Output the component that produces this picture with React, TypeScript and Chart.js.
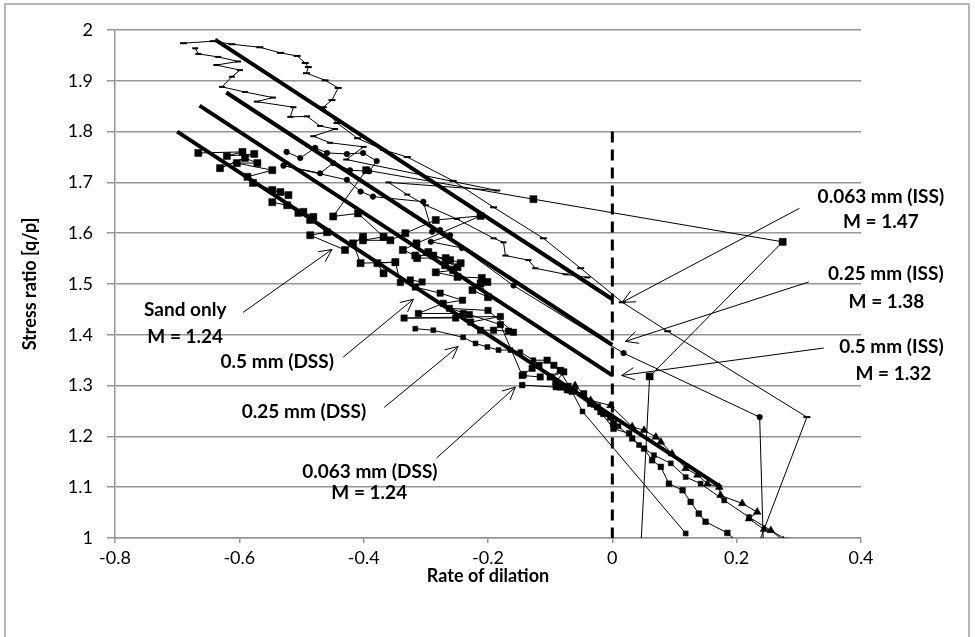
import { useEffect, useRef } from 'react';
import { Chart, registerables } from 'chart.js';
Chart.register(...registerables);

// Axis ranges / ticks
const X_MIN = -0.8, X_MAX = 0.4, X_STEP = 0.2;
const Y_MIN = 1, Y_MAX = 2, Y_STEP = 0.1;
const X_TITLE = 'Rate of dilation';
const Y_TITLE = 'Stress ratio [q/p]';

// 0.063 mm (ISS) – dash markers
const A_X = [-0.690,-0.642,-0.612,-0.567,-0.534,-0.507,-0.494,-0.489,-0.492,-0.462,-0.441,-0.451,-0.465,-0.443,-0.410,-0.368,-0.330,-0.256,-0.191,-0.111,-0.051,0.016,0.089,0.313,0.234];
const A_Y = [1.974,1.978,1.972,1.966,1.955,1.949,1.935,1.927,1.915,1.901,1.886,1.862,1.848,1.817,1.787,1.764,1.750,1.703,1.651,1.590,1.531,1.464,1.407,1.238,0.985];

// second ISS run – dash markers (zig-zag)
const B_X = [-0.671,-0.666,-0.634,-0.602,-0.637,-0.599,-0.612,-0.628,-0.591,-0.546,-0.572,-0.513,-0.518,-0.491,-0.470,-0.446,-0.481,-0.454,-0.400,-0.428,-0.185,-0.360,-0.330,-0.300,-0.250,-0.191,-0.175,-0.172,-0.135,-0.124,-0.075,-0.040];
const B_Y = [1.964,1.953,1.947,1.938,1.931,1.921,1.908,1.888,1.878,1.867,1.859,1.848,1.829,1.830,1.811,1.805,1.791,1.778,1.770,1.745,1.684,1.700,1.676,1.655,1.628,1.590,1.582,1.556,1.547,1.531,1.519,1.513];

// 0.25 mm (ISS) – circles
const C_X = [-0.524,-0.502,-0.478,-0.459,-0.427,-0.401,-0.379,-0.391,-0.422,-0.449,-0.470,-0.529,-0.427,-0.405,-0.385,-0.304,-0.290,-0.277,-0.261,-0.292,-0.242,-0.159,0.018,0.237,0.243];
const C_Y = [1.760,1.748,1.768,1.758,1.756,1.758,1.742,1.722,1.724,1.738,1.718,1.733,1.705,1.682,1.672,1.662,1.603,1.606,1.596,1.583,1.571,1.497,1.364,1.238,0.985];

// 0.5 mm (ISS) – large squares
const D_X = [-0.201,-0.212,-0.200,-0.225,-0.210,-0.249,-0.284,-0.256,-0.244,-0.268,-0.314,-0.296,-0.249,-0.269,-0.261,-0.288,-0.317,-0.337,-0.315,-0.212,-0.284,-0.333,-0.357,-0.401,-0.368,-0.409,-0.449,-0.396,-0.127,0.274,0.060,0.046];
const D_Y = [1.504,1.501,1.474,1.488,1.512,1.514,1.523,1.527,1.541,1.551,1.551,1.563,1.533,1.537,1.547,1.556,1.556,1.567,1.580,1.634,1.626,1.600,1.586,1.586,1.593,1.639,1.633,1.724,1.667,1.583,1.318,0.985];

// Sand only – large squares
const E_X = [-0.666,-0.595,-0.620,-0.576,-0.631,-0.591,-0.571,-0.604,-0.547,-0.587,-0.578,-0.547,-0.521,-0.534,-0.547,-0.523,-0.505,-0.481,-0.497,-0.486,-0.459,-0.486,-0.430,-0.401,-0.417,-0.405,-0.349,-0.378,-0.368];
const E_Y = [1.758,1.760,1.752,1.756,1.728,1.748,1.738,1.738,1.724,1.711,1.699,1.685,1.675,1.681,1.661,1.655,1.640,1.632,1.642,1.626,1.602,1.596,1.567,1.593,1.580,1.541,1.543,1.541,1.521];

// 0.5 mm (DSS) – squares
const F_X = [-0.349,-0.341,-0.325,-0.306,-0.317,-0.277,-0.241,-0.272,-0.312,-0.240,-0.252,-0.335,-0.180,-0.228,-0.212,-0.191,-0.167,-0.159,-0.200,-0.262,-0.230,-0.180,-0.145,-0.116];
const F_Y = [1.543,1.503,1.508,1.504,1.494,1.482,1.468,1.462,1.442,1.442,1.433,1.433,1.436,1.425,1.409,1.409,1.407,1.405,1.448,1.452,1.440,1.420,1.320,1.317];

// 0.25 mm (DSS) – small squares
const G_X = [-0.317,-0.288,-0.240,-0.220,-0.201,-0.183,-0.164,-0.148,-0.127,-0.104,-0.085,-0.070,-0.048,0.118];
const G_Y = [1.412,1.409,1.395,1.383,1.376,1.370,1.370,1.366,1.350,1.350,1.330,1.300,1.249,1.009];

// 0.063 mm (DSS) – squares
const H_X = [-0.145,-0.091,-0.073,-0.065,-0.019,0.002,0.027,0.032,0.051,0.064,0.078,0.091,0.113,0.126,0.139,0.150,0.185,0.206];
const H_Y = [1.301,1.297,1.291,1.288,1.248,1.215,1.206,1.196,1.176,1.153,1.140,1.107,1.094,1.071,1.048,1.032,1.010,0.986];

// DSS cluster near the origin – squares
const K_X = [-0.143,-0.129,-0.118,-0.105,-0.094,-0.083,-0.100,-0.078,-0.091,-0.083,-0.067,-0.046,-0.035,-0.024,-0.014,-0.003,0.002];
const K_Y = [1.322,1.334,1.340,1.350,1.340,1.330,1.317,1.327,1.307,1.297,1.291,1.284,1.265,1.258,1.245,1.238,1.225];

// lower band – small squares
const S_X = [-0.060,-0.030,0.010,0.043,0.067,0.094,0.118,0.142,0.180,0.220,0.282];
const S_Y = [1.290,1.262,1.220,1.183,1.163,1.147,1.120,1.107,1.074,1.041,0.995];

// triangles band
const T_X = [-0.060,-0.035,-0.003,0.032,0.051,0.070,0.078,0.096,0.118,0.137,0.153,0.172,0.174,0.209,0.233,0.220,0.244,0.255,0.275];
const T_Y = [1.300,1.271,1.261,1.219,1.212,1.199,1.189,1.166,1.137,1.124,1.107,1.100,1.084,1.068,1.051,1.038,1.017,1.015,0.995];

// Critical-state lines  y = M - 0.8x
const L_SAND_X = [-0.70, 0.175]; const L_SAND_Y = [1.80, 1.10];
const L_05_X = [-0.664, 0]; const L_05_Y = [1.851, 1.32];
const L_025_X = [-0.621, 0]; const L_025_Y = [1.877, 1.38];
const L_0063_X = [-0.639, 0]; const L_0063_Y = [1.981, 1.47];
const ZERO_X = [0, 0]; const ZERO_Y = [1.8, 1.0];

// Annotations (data coordinates)
const LABELS: [string, number, number][] = [
  ['0.063 mm (ISS)', 0.432, 1.671], ['M = 1.47', 0.432, 1.622],
  ['0.25 mm (ISS)', 0.440, 1.519], ['M = 1.38', 0.441, 1.465],
  ['0.5 mm (ISS)', 0.449, 1.376], ['M = 1.32', 0.452, 1.324],
  ['Sand only', -0.687, 1.449], ['M = 1.24', -0.687, 1.395],
  ['0.5 mm (DSS)', -0.539, 1.346],
  ['0.25 mm (DSS)', -0.496, 1.248],
  ['0.063 mm (DSS)', -0.390, 1.131], ['M = 1.24', -0.391, 1.088],
];
const ARROWS: [number, number, number, number][] = [
  [0.301, 1.649, 0.016, 1.464],
  [0.316, 1.504, 0.021, 1.387],
  [0.340, 1.374, 0.015, 1.320],
  [-0.594, 1.444, -0.451, 1.568],
  [-0.433, 1.356, -0.320, 1.470],
  [-0.367, 1.257, -0.248, 1.377],
  [-0.283, 1.157, -0.156, 1.297],
];

const pts = (xs: number[], ys: number[]) => xs.map((x, i) => ({ x, y: ys[i] }));

const GRID = '#959595';
const FONT = 'Lato';

const series = (xs: number[], ys: number[], style: any, radius: number) => ({
  data: pts(xs, ys),
  showLine: true,
  borderColor: '#000',
  borderWidth: 1,
  pointStyle: style,
  pointRadius: radius,
  pointBackgroundColor: '#000',
  pointBorderColor: '#000',
  pointBorderWidth: style === 'line' ? 2 : 0.5,
  tension: 0,
});

const thick = (xs: number[], ys: number[]) => ({
  data: pts(xs, ys), showLine: true, borderColor: '#000', borderWidth: 4, pointRadius: 0, tension: 0,
});

const decor = {
  id: 'decor',
  beforeDraw(chart: any) {
    const { ctx, width, height } = chart;
    ctx.save();
    ctx.fillStyle = '#fff';
    ctx.fillRect(0, 0, width, height);
    ctx.strokeStyle = '#a0a0a0';
    ctx.lineWidth = 1.5;
    ctx.strokeRect(5, 4, 964, 650);
    ctx.restore();
  },
  afterDatasetsDraw(chart: any) {
    const { ctx, scales: { x, y } } = chart;
    ctx.save();
    ctx.strokeStyle = '#000';
    ctx.lineWidth = 1;
    ARROWS.forEach(([x1, y1, x2, y2]) => {
      const ax = x.getPixelForValue(x1), ay = y.getPixelForValue(y1);
      const bx = x.getPixelForValue(x2), by = y.getPixelForValue(y2);
      const ang = Math.atan2(by - ay, bx - ax);
      const len = 14, spread = 0.45;
      ctx.beginPath();
      ctx.moveTo(ax, ay); ctx.lineTo(bx, by);
      ctx.moveTo(bx - len * Math.cos(ang - spread), by - len * Math.sin(ang - spread));
      ctx.lineTo(bx, by);
      ctx.lineTo(bx - len * Math.cos(ang + spread), by - len * Math.sin(ang + spread));
      ctx.stroke();
    });
    ctx.fillStyle = '#000';
    ctx.font = `bold 19px ${FONT}`;
    ctx.textAlign = 'center';
    ctx.textBaseline = 'middle';
    LABELS.forEach(([t, lx, ly]) => ctx.fillText(t, x.getPixelForValue(lx), y.getPixelForValue(ly)));
    ctx.restore();
  },
};

export default function App() {
  const ref = useRef<HTMLCanvasElement>(null);
  useEffect(() => {
    document.body.style.margin = '0';
    const chart = new Chart(ref.current!, {
      type: 'scatter',
      data: {
        datasets: [
          thick(L_SAND_X, L_SAND_Y), thick(L_05_X, L_05_Y), thick(L_025_X, L_025_Y), thick(L_0063_X, L_0063_Y),
          { data: pts(ZERO_X, ZERO_Y), showLine: true, borderColor: '#000', borderWidth: 3, borderDash: [11, 7], pointRadius: 0 },
          series(A_X, A_Y, 'line', 3.5),
          series(B_X, B_Y, 'line', 3),
          series(C_X, C_Y, 'circle', 2.8),
          series(D_X, D_Y, 'rect', 5),
          series(E_X, E_Y, 'rect', 5),
          series(F_X, F_Y, 'rect', 4.5),
          series(G_X, G_Y, 'rect', 3.5),
          series(H_X, H_Y, 'rect', 4),
          series(K_X, K_Y, 'rect', 4.5),
          series(S_X, S_Y, 'rect', 3.5),
          series(T_X, T_Y, 'triangle', 4.5),
        ] as any,
      },
      options: {
        animation: false,
        responsive: false,
        devicePixelRatio: 1,
        layout: { padding: { top: 30, right: 114, bottom: 0, left: 0 } },
        plugins: { legend: { display: false }, tooltip: { enabled: false } },
        scales: {
          x: {
            type: 'linear', min: X_MIN, max: X_MAX,
            ticks: { stepSize: X_STEP, color: '#000', font: { family: FONT, size: 18 }, padding: 4,
              callback: (v: any) => String(Math.round(Number(v) * 10) / 10) },
            grid: { drawOnChartArea: false, drawTicks: true, tickLength: 5, color: GRID, lineWidth: 1.5 },
            border: { color: GRID, width: 1.5 },
            title: { display: true, text: X_TITLE, color: '#000', font: { family: FONT, size: 18, weight: 'bold' }, padding: { top: 0, bottom: 50 } },
            afterFit: (s: any) => { s.height = 99; },
          },
          y: {
            type: 'linear', min: Y_MIN, max: Y_MAX,
            ticks: { stepSize: Y_STEP, color: '#000', font: { family: FONT, size: 18 }, padding: 14,
              callback: (v: any) => String(Math.round(Number(v) * 10) / 10) },
            grid: { color: GRID, lineWidth: 1.5, tickLength: 8 },
            border: { color: GRID, width: 1.5 },
            title: { display: true, text: Y_TITLE, color: '#000', font: { family: FONT, size: 18, weight: 'bold' }, padding: { top: 19, bottom: 0 } },
            afterFit: (s: any) => { s.width = 115; },
          },
        },
      } as any,
      plugins: [decor],
    });
    return () => chart.destroy();
  }, []);
  return <canvas ref={ref} width={975} height={637} style={{ display: 'block' }} />;
}
